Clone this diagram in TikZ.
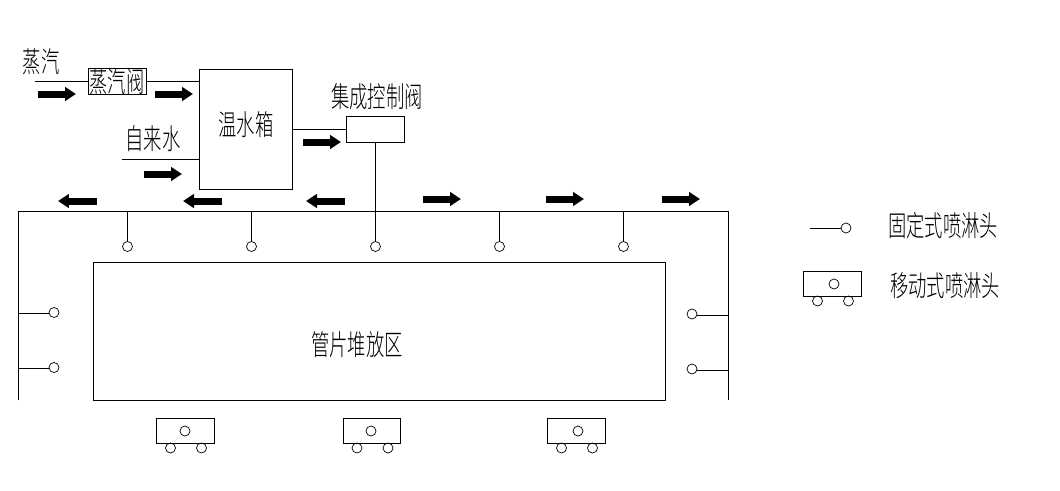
\documentclass[tikz,border=0pt]{standalone}
\usepackage{fontspec}
\setmainfont[FakeStretch=0.64]{Noto Sans CJK SC Light}
\usetikzlibrary{arrows.meta}
\tikzset{
    pipe/.style={line width=0.55pt},
    boxnode/.style={draw, line width=0.55pt, inner sep=0pt},
    head/.style={draw, circle, line width=0.4pt, minimum size=0.2cm, inner sep=0pt},
    flow/.style={line width=0.14cm, -{Triangle[length=0.22cm,width=0.27cm]}},
    lbl/.style={inner sep=0pt, font=\fontsize{16.3pt}{17pt}\selectfont}
}
\begin{document}
\begin{tikzpicture}[x=0.02cm, y=-0.02cm]
    \useasboundingbox (0,0) rectangle (1060,490);

    % Supply side
    \node[lbl] (valvelbl) at (117,82) {蒸汽阀};
    \node[boxnode, minimum width=1.16cm, minimum height=0.52cm] (valve) at (117,81) {};
    \node[boxnode, minimum width=1.87cm, minimum height=2.4cm] (tank) at (246,129) {};
    \node[lbl] (tanklbl) at (246,125) {温水箱};
    \node[boxnode, minimum width=1.16cm, minimum height=0.52cm] (ctrl) at (375,129) {};
    \coordinate (steam) at (35,81);
    \coordinate (water) at (122,159);
    \coordinate (joint) at (375.5,211);
    \draw[pipe] (steam) -- (valve);
    \draw[pipe] (valve) -- (valve -| tank.west);
    \draw[pipe] (water) -- (water -| tank.west);
    \draw[pipe] (tank) -- (ctrl);
    \draw[pipe] (ctrl.south -| joint) -- (joint);
    \node[lbl] (steamlbl) at (41,62) {蒸汽};
    \node[lbl] (waterlbl) at (153,139) {自来水};
    \node[lbl] (ctrllbl) at (377,97) {集成控制阀};

    % Main pipe
    \coordinate (ll) at (18.5,400);
    \coordinate (ul) at (18.5,211.5);
    \coordinate (ur) at (728.5,211.5);
    \coordinate (lr) at (728.5,400);
    \draw[pipe] (ll) -- (ul) -- (ur) -- (lr);

    % Storage area
    \node[boxnode, minimum width=11.44cm, minimum height=2.76cm] (yard) at (379.5,331.5) {};
    \node[lbl] (yardlbl) at (357,345) {管片堆放区};

    % Fixed heads
    \foreach \x/\n in {127.5/a,251.5/b,375.5/c,499.5/d,623.5/e} {
        \node[head] (top\n) at (\x,246.5) {};
        \draw[pipe] (\x,211.5) -- (top\n);
    }
    \foreach \y in {313,368} {
        \node[head] (left\y) at (54,\y-0.5) {};
        \draw[pipe] (18.5,\y) -- (left\y.west |- 0,\y);
    }
    \foreach \y in {315,370} {
        \node[head] (right\y) at (692,\y-1) {};
        \draw[pipe] (728.5,\y) -- (right\y.east |- 0,\y);
    }

    % Mobile heads
    \foreach \x/\y/\c/\n in {186/431/185/a,372.5/431/371/b,577/431/578/c,833/284/834/d} {
        \node[boxnode, minimum width=1.15cm, minimum height=0.5cm] (cart\n) at (\x-0.5,\y) {};
        \node[head] (cart\n c) at (\c,\y) {};
        \node[head] (cart\n l) at (\x-15.5,\y+17) {};
        \node[head] (cart\n r) at (\x+15.5,\y+17) {};
    }

    % Flow arrows
    \foreach \x/\y in {38/94,155/94,144/174,303/142,423/199,546/199,662/199} {
        \draw[flow] (\x,\y) -- ++(38,0);
    }
    \foreach \x in {97,222,345} {
        \draw[flow] (\x,201) -- ++(-39,0);
    }

    % Legend
    \node[head] (keyhead) at (846,228) {};
    \coordinate (keyline) at (810,228);
    \draw[pipe] (keyline) -- (keyhead);
    \node[lbl] (keyfixed) at (943,226) {固定式喷淋头};
    \node[lbl] (keymobile) at (945,286) {移动式喷淋头};
\end{tikzpicture}
\end{document}
